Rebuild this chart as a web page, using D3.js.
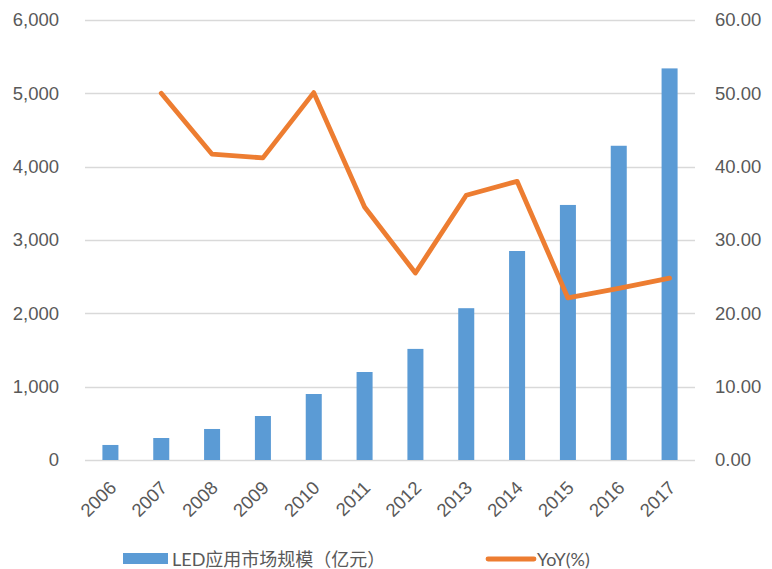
<!DOCTYPE html>
<html>
<head>
<meta charset="utf-8">
<script src="https://cdn.jsdelivr.net/npm/d3@7/dist/d3.min.js"></script>
<style>
  html, body { margin: 0; padding: 0; background: #fff; }
  svg { display: block; font-family: Lato, "Noto Sans CJK SC", sans-serif; }
</style>
</head>
<body>
<svg id="chart" width="772" height="569"></svg>
<script>
// LED application market size (100M CNY) and year-over-year growth (%)
const years = ["2006","2007","2008","2009","2010","2011","2012","2013","2014","2015","2016","2017"];
const marketSize = [205, 300, 423, 600, 900, 1200, 1515, 2070, 2850, 3478, 4285, 5340];
const yoyYears = ["2007","2008","2009","2010","2011","2012","2013","2014","2015","2016","2017"];
const yoy = [50.0, 41.7, 41.2, 50.1, 34.5, 25.5, 36.1, 38.0, 22.1, 23.4, 24.8];
const leftTicks = [0, 1000, 2000, 3000, 4000, 5000, 6000];
const rightTicks = [0, 10, 20, 30, 40, 50, 60];
const barLabel = "LED应用市场规模（亿元）";
const lineLabel = "YoY(%)";

const W = 772, H = 569;
const margin = { top: 20, right: 77, bottom: 109, left: 85 };
const svg = d3.select("#chart");

const x = d3.scaleBand()
  .domain(years)
  .range([margin.left, W - margin.right])
  .paddingInner(0.685)
  .paddingOuter(0.3425);

const yL = d3.scaleLinear().domain([0, 6000]).range([H - margin.bottom, margin.top]);
const yR = d3.scaleLinear().domain([0, 60]).range([H - margin.bottom, margin.top]);

const textColor = "#595959";
const gridColor = "#d9d9d9";
const barColor = "#5b9bd5";
const lineColor = "#ed7d31";

// gridlines
svg.append("g")
  .selectAll("line")
  .data(leftTicks)
  .join("line")
  .attr("x1", margin.left)
  .attr("x2", W - margin.right)
  .attr("y1", d => Math.round(yL(d)) + 0.5)
  .attr("y2", d => Math.round(yL(d)) + 0.5)
  .attr("stroke", gridColor)
  .attr("stroke-width", 1.3);

// left axis
const leftAxis = svg.append("g")
  .attr("transform", `translate(${margin.left},0)`)
  .call(d3.axisLeft(yL).tickValues(leftTicks).tickFormat(d3.format(",")).tickSize(0).tickPadding(26));
leftAxis.select(".domain").remove();
leftAxis.selectAll("text")
  .attr("fill", textColor)
  .style("font-size", "18.5px");

// right axis
const rightAxis = svg.append("g")
  .attr("transform", `translate(${W - margin.right},0)`)
  .call(d3.axisRight(yR).tickValues(rightTicks).tickFormat(d3.format(".2f")).tickSize(0).tickPadding(20));
rightAxis.select(".domain").remove();
rightAxis.selectAll("text")
  .attr("fill", textColor)
  .style("font-size", "18.5px");

// bars
svg.append("g")
  .selectAll("rect")
  .data(years.map((y, i) => ({ year: y, value: marketSize[i] })))
  .join("rect")
  .attr("x", d => x(d.year))
  .attr("width", x.bandwidth())
  .attr("y", d => yL(d.value))
  .attr("height", d => yL(0) - yL(d.value))
  .attr("fill", barColor);

// bottom axis labels, rotated
const bottomAxis = svg.append("g")
  .attr("transform", `translate(0,${H - margin.bottom})`)
  .call(d3.axisBottom(x).tickSize(0).tickPadding(0));
bottomAxis.select(".domain").remove();
bottomAxis.selectAll("text")
  .attr("fill", textColor)
  .style("font-size", "18.5px")
  .attr("text-anchor", "end")
  .attr("dy", null)
  .attr("transform", "translate(7,29) rotate(-45)");

// YoY line
const line = d3.line()
  .x(d => x(d.year) + x.bandwidth() / 2)
  .y(d => yR(d.value));
svg.append("path")
  .datum(yoyYears.map((y, i) => ({ year: y, value: yoy[i] })))
  .attr("d", line)
  .attr("fill", "none")
  .attr("stroke", lineColor)
  .attr("stroke-width", 4.8)
  .attr("stroke-linejoin", "round")
  .attr("stroke-linecap", "round");

// legend
const legend = svg.append("g");
legend.append("rect")
  .attr("x", 123).attr("y", 553)
  .attr("width", 45).attr("height", 11)
  .attr("fill", barColor);
legend.append("text")
  .attr("x", 172).attr("y", 566)
  .attr("fill", textColor)
  .style("font-size", "18px")
  .text(barLabel);
legend.append("line")
  .attr("x1", 488).attr("x2", 534)
  .attr("y1", 559).attr("y2", 559)
  .attr("stroke", lineColor)
  .attr("stroke-width", 4.8)
  .attr("stroke-linecap", "round");
legend.append("text")
  .attr("x", 537).attr("y", 566)
  .attr("fill", textColor)
  .style("font-size", "18px")
  .text(lineLabel);
</script>
</body>
</html>
